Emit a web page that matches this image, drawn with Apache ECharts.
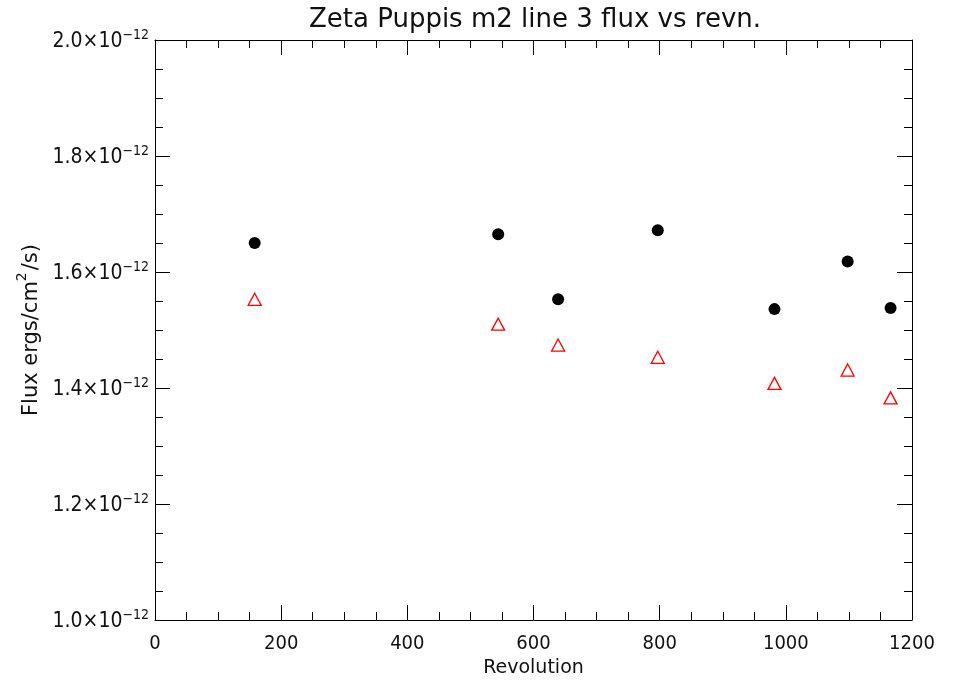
<!DOCTYPE html>
<html>
<head>
<meta charset="utf-8">
<script src="https://cdn.jsdelivr.net/npm/echarts@6/dist/echarts.min.js"></script>
<style>html,body{margin:0;padding:0;background:#fff}#c{width:956px;height:680px}</style>
</head>
<body>
<div id="c"></div>
<script>
const revolutions = [158, 544, 639, 797, 982, 1098, 1166];
const fluxCircle = [1.650e-12, 1.665e-12, 1.553e-12, 1.672e-12, 1.536e-12, 1.618e-12, 1.538e-12];
const fluxTriangle = [1.553e-12, 1.510e-12, 1.474e-12, 1.453e-12, 1.408e-12, 1.431e-12, 1.383e-12];
const xTicks = [0, 200, 400, 600, 800, 1000, 1200];
const yTickMantissas = ['1.0', '1.2', '1.4', '1.6', '1.8', '2.0'];

const FONT_C = "'DejaVu Sans Condensed', 'DejaVu Sans'";
const FONT = "'DejaVu Sans'";
const TXT = '#111';
const chart = echarts.init(document.getElementById('c'), null, {renderer: 'canvas'});
const lineOn = {show: true, onZero: false, lineStyle: {color: '#000', width: 1}};
const lineOff = {show: false, onZero: false};
const majorTick = {show: true, inside: true, length: 15, lineStyle: {color: '#000', width: 1}};
const minorTickAx = {show: true, inside: true, length: 8, lineStyle: {color: '#000', width: 1}};

function yFmt(v) {
  const idx = Math.round((v * 1e12 - 1.0) / 0.2);
  const m = yTickMantissas[idx] !== undefined ? yTickMantissas[idx] : (v * 1e12).toFixed(1);
  return '{a|' + m + '×10}{b|−12}';
}

function xAx(pos, interval, tick, labels, extra) {
  return Object.assign({
    type: 'value', min: 0, max: 1200, interval: interval, position: pos, offset: 0,
    axisLine: tick === majorTick ? lineOn : lineOff,
    axisTick: tick, minorTick: {show: false}, splitLine: {show: false},
    axisLabel: labels || {show: false}
  }, extra || {});
}
function yAx(pos, interval, tick, labels, extra) {
  return Object.assign({
    type: 'value', min: 1.0e-12, max: 2.0e-12, interval: interval, position: pos, offset: 0,
    axisLine: tick === majorTick ? lineOn : lineOff,
    axisTick: tick, minorTick: {show: false}, splitLine: {show: false},
    axisLabel: labels || {show: false}
  }, extra || {});
}

chart.setOption({
  backgroundColor: '#fff',
  animation: false,
  title: {
    text: 'Zeta Puppis m2 line 3 flux vs revn.',
    left: 530, top: 2, textAlign: 'center',
    textStyle: {fontFamily: FONT, fontSize: 26, fontWeight: 'normal', color: TXT}
  },
  grid: {left: 155, right: 44, top: 40, bottom: 60, containLabel: false, outerBoundsMode: 'none'},
  xAxis: [
    xAx('bottom', 200, majorTick,
      {margin: 14, fontFamily: FONT_C, fontSize: 20, color: TXT,
       formatter: v => xTicks.includes(v) ? String(v) : ''},
      {name: 'Revolution', nameLocation: 'middle', nameGap: 38,
       nameTextStyle: {fontFamily: FONT, fontSize: 19, color: TXT}}),
    xAx('top', 200, majorTick),
    xAx('bottom', 50, minorTickAx),
    xAx('top', 50, minorTickAx)
  ],
  yAxis: [
    yAx('left', 0.2e-12, majorTick,
      {margin: 6, fontFamily: FONT_C, color: TXT, formatter: yFmt,
       rich: {
         a: {fontFamily: FONT_C, fontSize: 21, color: TXT, lineHeight: 24, verticalAlign: 'bottom'},
         b: {fontFamily: FONT_C, fontSize: 14, color: TXT, verticalAlign: 'top', lineHeight: 24}
       }},
      {name: '{a|Flux ergs/cm}{b|2}{a|/s)}', nameLocation: 'middle', nameGap: 113, nameRotate: 90,
       nameTextStyle: {fontFamily: FONT, fontSize: 21, color: TXT,
         rich: {
           a: {fontFamily: FONT, fontSize: 21, color: TXT, lineHeight: 26, verticalAlign: 'bottom'},
           b: {fontFamily: FONT, fontSize: 14, color: TXT, verticalAlign: 'top', lineHeight: 26, padding: [0, 2, 0, 0]}
         }}}),
    yAx('right', 0.2e-12, majorTick),
    yAx('left', 0.05e-12, minorTickAx),
    yAx('right', 0.05e-12, minorTickAx)
  ],
  series: [{
    type: 'scatter', xAxisIndex: 0, yAxisIndex: 0,
    data: revolutions.map((r, i) => [r, fluxCircle[i]]),
    symbol: 'circle', symbolSize: 12,
    itemStyle: {color: '#000', opacity: 1}
  }, {
    type: 'scatter', xAxisIndex: 0, yAxisIndex: 0,
    data: revolutions.map((r, i) => [r, fluxTriangle[i]]),
    symbol: 'triangle', symbolSize: [13, 12],
    itemStyle: {color: 'rgba(255,255,255,0)', borderColor: '#ff0000', borderWidth: 1.3, opacity: 1}
  }]
});
</script>
</body>
</html>
